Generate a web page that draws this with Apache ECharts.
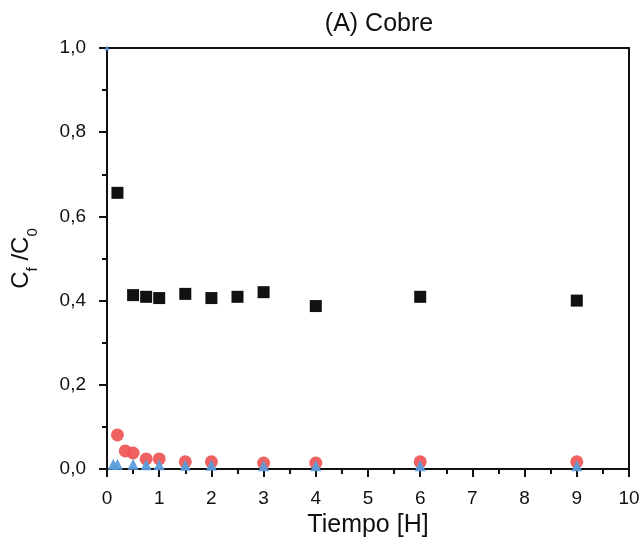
<!DOCTYPE html>
<html><head><meta charset="utf-8">
<script src="https://cdn.jsdelivr.net/npm/echarts@6/dist/echarts.min.js"></script>
<style>html,body{margin:0;padding:0;background:#fff}#c{width:643px;height:550px}</style>
</head><body><div id="c"></div>
<script>
const title = "(A) Cobre";
const xName = "Tiempo [H]";
const squareX = [0.2, 0.5, 0.75, 1, 1.5, 2, 2.5, 3, 4, 6, 9];
const squareY = [0.656, 0.413, 0.409, 0.406, 0.416, 0.406, 0.409, 0.42, 0.387, 0.409, 0.40];
const circleX = [0.2, 0.35, 0.5, 0.75, 1, 1.5, 2, 3, 4, 6, 9];
const circleY = [0.081, 0.043, 0.038, 0.024, 0.024, 0.017, 0.017, 0.014, 0.014, 0.017, 0.017];
const triX = [0, 0.12, 0.2, 0.5, 0.75, 1, 1.5, 2, 3, 4, 6, 9];
const triY = [1.0, 0.011, 0.011, 0.011, 0.01, 0.01, 0.009, 0.009, 0.008, 0.008, 0.008, 0.008];
const zip = (a, b) => a.map((v, i) => [v, b[i]]);

const chart = echarts.init(document.getElementById('c'));
const font = 'Liberation Sans, Arial, sans-serif';
chart.setOption({
  animation: false,
  title: {text: title, left: 374, top: 7, textAlign: 'center',
    textStyle: {fontFamily: font, fontSize: 25, fontWeight: 'normal', color: '#111'}},
  grid: {left: 107, right: 14, top: 48, bottom: 81, show: true, borderColor: '#111', borderWidth: 2},
  xAxis: {type: 'value', min: 0, max: 10, interval: 1,
    name: xName, nameLocation: 'middle', nameGap: 44,
    nameTextStyle: {fontFamily: font, fontSize: 25, color: '#111'},
    axisLine: {lineStyle: {color: '#111', width: 2}},
    axisTick: {show: true, length: 8, lineStyle: {width: 2, color: '#111'}},
    minorTick: {show: true, splitNumber: 2, length: 5, lineStyle: {width: 2, color: '#111'}},
    splitLine: {show: false},
    axisLabel: {fontFamily: font, fontSize: 19, color: '#111', margin: 20}},
  yAxis: {type: 'value', min: 0, max: 1, interval: 0.2,
    name: '{a|C}{s|f}{a| /C}{s|0}', nameLocation: 'middle', nameGap: 74, nameRotate: 90,
    nameTextStyle: {rich: {
      a: {fontFamily: font, fontSize: 24, color: '#111', lineHeight: 28, verticalAlign: 'bottom'},
      s: {fontFamily: font, fontSize: 15, color: '#111', lineHeight: 28, verticalAlign: 'bottom', padding: [0, 0, -7, 0]}}},
    axisLine: {lineStyle: {color: '#111', width: 2}},
    axisTick: {show: true, length: 8, lineStyle: {width: 2, color: '#111'}},
    minorTick: {show: true, splitNumber: 2, length: 5, lineStyle: {width: 2, color: '#111'}},
    splitLine: {show: false},
    axisLabel: {fontFamily: font, fontSize: 19, color: '#111', margin: 21,
      formatter: v => v.toFixed(1).replace('.', ',')}},
  series: [
    {type: 'scatter', symbol: 'rect', symbolSize: 12, data: zip(squareX, squareY),
      itemStyle: {color: '#111', opacity: 1}},
    {type: 'scatter', symbol: 'circle', symbolSize: 13, data: zip(circleX, circleY),
      itemStyle: {color: '#ef5858', opacity: 0.95}},
    {type: 'scatter', symbol: 'triangle', symbolSize: 11,
      data: zip(triX, triY).map((p, i) => i === 0 ? {value: p, symbolSize: 5} : p),
      itemStyle: {color: '#5b9ddc', opacity: 0.95}}
  ]
});
</script></body></html>
